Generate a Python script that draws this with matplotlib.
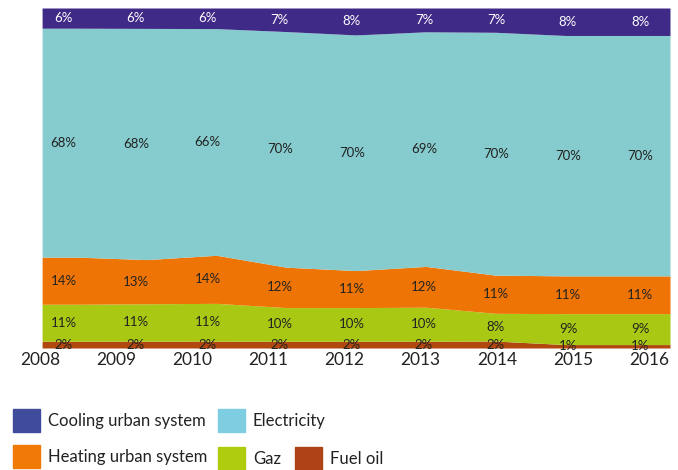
import numpy as np
import matplotlib.pyplot as plt
from matplotlib.patches import Rectangle

plt.rcParams['font.family'] = ['Lato', 'DejaVu Sans']

years = ['2008', '2009', '2010', '2011', '2012', '2013', '2014', '2015', '2016']
fuel_oil = [2, 2, 2, 2, 2, 2, 2, 1, 1]
gaz = [11, 11, 11, 10, 10, 10, 8, 9, 9]
heating = [14, 13, 14, 12, 11, 12, 11, 11, 11]
electricity = [68, 68, 66, 70, 70, 69, 70, 70, 70]
cooling = [6, 6, 6, 7, 8, 7, 7, 8, 8]

series = [fuel_oil, gaz, heating, electricity, cooling]
names = ['Fuel oil', 'Gaz', 'Heating urban system', 'Electricity', 'Cooling urban system']
area_colors = ['#b0480f', '#a8c813', '#ee7505', '#86cbcd', '#3f2a87']
legend_colors = ['#ad4317', '#b0cc0e', '#f07a05', '#7fcde0', '#3f4c9c']
label_colors = ['#222222', '#222222', '#222222', '#222222', '#ffffff']

vals = np.array(series, dtype=float)
shares = vals / vals.sum(axis=0) * 100
n = len(years)
x = np.arange(n)
# extend the areas flat to the plot edges
xe = np.concatenate([[-0.5], x, [n - 0.5]])
# label and tick positions (slightly different spread than the areas)
label_x = np.linspace(-0.19, 8.07, n)
tick_x = np.linspace(-0.53, 8.2, n)

fig = plt.figure(figsize=(6.78, 4.70), dpi=100)
ax = fig.add_axes([40 / 678, 122 / 470, 630 / 678, 340 / 470])

bottom = np.zeros(n)
for i in range(len(series)):
    top = bottom + shares[i]
    be = np.concatenate([[bottom[0]], bottom, [bottom[-1]]])
    te = np.concatenate([[top[0]], top, [top[-1]]])
    ax.fill_between(xe, be, te, color=area_colors[i], linewidth=0)
    for j in range(n):
        ax.text(label_x[j], (bottom[j] + top[j]) / 2, f'{series[i][j]}%',
                ha='center', va='center', fontsize=9.5, color=label_colors[i])
    bottom = top

ax.set_xlim(-0.5, n - 0.5)
ax.set_ylim(0, 100)
ax.set_yticks([])
ax.set_xticks(tick_x)
ax.set_xticklabels(years, fontsize=12.5, color='#222222')
ax.tick_params(axis='x', length=0, pad=3)
for s in ax.spines.values():
    s.set_visible(False)

# legend drawn by hand in figure pixels
legend_items = [
    (4, 13, 409), (3, 218, 409),
    (2, 13, 445), (1, 218, 447), (0, 295, 447),
]
for idx, px, py in legend_items:
    fig.patches.append(Rectangle((px / 678, 1 - (py + 23) / 470), 27 / 678, 23 / 470,
                                 transform=fig.transFigure, color=legend_colors[idx]))
    fig.text((px + 35) / 678, 1 - (py + 12) / 470, names[idx],
             ha='left', va='center', fontsize=12, color='#222222')

plt.savefig('out.png', dpi=100)
